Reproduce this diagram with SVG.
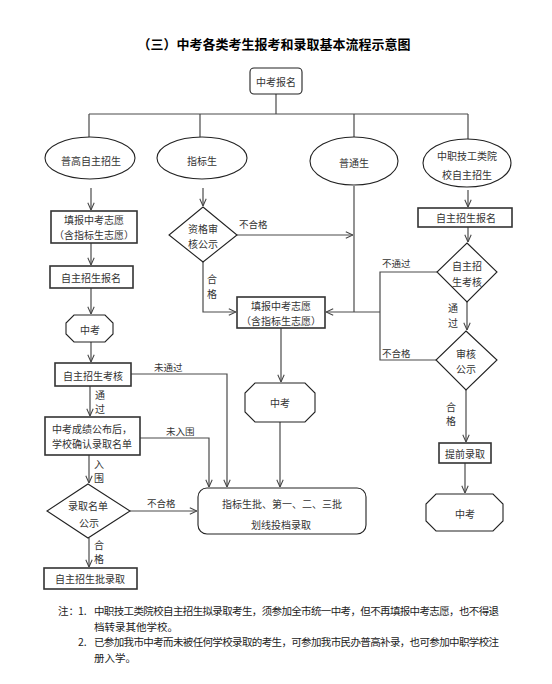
<svg xmlns="http://www.w3.org/2000/svg" width="552" height="684" viewBox="0 0 552 684">
<style>
.ln{stroke:#4a4a4a;stroke-width:1.2;fill:none}
.bx{fill:#fff;stroke:#333;stroke-width:1.6}
.sh{fill:#fff;stroke:#222;stroke-width:1.1}
.t{font-family:"Noto Sans CJK SC","Noto Sans",sans-serif;font-size:10px;fill:#333;text-anchor:middle;dominant-baseline:central}
.l{font-family:"Noto Sans CJK SC","Noto Sans",sans-serif;font-size:9.5px;fill:#333;dominant-baseline:central}
.n{font-family:"Noto Sans CJK SC","Noto Sans",sans-serif;font-size:10.5px;fill:#222}
.title{font-family:"Noto Sans CJK SC",sans-serif;font-size:13px;font-weight:bold;fill:#000;text-anchor:middle}
</style>
<defs>
<marker id="ar" viewBox="0 0 10 10" refX="10" refY="5" markerWidth="8" markerHeight="8" markerUnits="userSpaceOnUse" orient="auto">
<path d="M1,1 L10,5 L1,9" fill="none" stroke="#444" stroke-width="1.3"/>
</marker>
</defs>
<rect width="552" height="684" fill="#fff"/>
<text class="title" x="274" y="48.5">（三）中考各类考生报考和录取基本流程示意图</text>

<g id="connectors">
<path class="ln" d="M276,94 V114 M89,114 H468 M89,114 V137 M200,114 V137 M354,114 V137 M468,114 V139"/>
<path class="ln" d="M91,188 V210" marker-end="url(#ar)"/>
<path class="ln" d="M91,243 V265" marker-end="url(#ar)"/>
<path class="ln" d="M91,288 V314" marker-end="url(#ar)"/>
<path class="ln" d="M91,342 V362" marker-end="url(#ar)"/>
<path class="ln" d="M90,386 V416" marker-end="url(#ar)"/>
<path class="ln" d="M89,455 V483" marker-end="url(#ar)"/>
<path class="ln" d="M89,538 V567" marker-end="url(#ar)"/>
<path class="ln" d="M203,188 V206" marker-end="url(#ar)"/>
<path class="ln" d="M203,262 V312 H236" marker-end="url(#ar)"/>
<path class="ln" d="M237,235 H353" marker-end="url(#ar)"/>
<path class="ln" d="M354,186 V312"/>
<path class="ln" d="M437,272 H380 V360 H436"/>
<path class="ln" d="M380,312 H326" marker-end="url(#ar)"/>
<path class="ln" d="M468,190 V207" marker-end="url(#ar)"/>
<path class="ln" d="M468,227 V242" marker-end="url(#ar)"/>
<path class="ln" d="M467,302 V330" marker-end="url(#ar)"/>
<path class="ln" d="M466,390 V442" marker-end="url(#ar)"/>
<path class="ln" d="M465,463 V493" marker-end="url(#ar)"/>
<path class="ln" d="M281,328 V382" marker-end="url(#ar)"/>
<path class="ln" d="M280,422 V487" marker-end="url(#ar)"/>
<path class="ln" d="M131,374 H227 V487" marker-end="url(#ar)"/>
<path class="ln" d="M140,438 H209 V487" marker-end="url(#ar)"/>
<path class="ln" d="M130,511 H197" marker-end="url(#ar)"/>
<text class="l" x="239" y="224">不合格</text>
<text class="t" x="212" y="278">合</text>
<text class="t" x="212" y="293">格</text>
<text class="l" x="382" y="263">不通过</text>
<text class="l" x="382" y="353">不合格</text>
<text class="t" x="453" y="307">通</text>
<text class="t" x="453" y="322">过</text>
<text class="t" x="451" y="406">合</text>
<text class="t" x="451" y="420">格</text>
<text class="l" x="154" y="367">未通过</text>
<text class="l" x="166" y="431">未入围</text>
<text class="l" x="147" y="503">不合格</text>
<text class="t" x="100" y="394">通</text>
<text class="t" x="100" y="408">过</text>
<text class="t" x="99" y="463">入</text>
<text class="t" x="99" y="477">围</text>
<text class="t" x="99" y="544">合</text>
<text class="t" x="99" y="558">格</text>
</g>

<g id="n-baoming"><rect class="sh" x="250" y="68" width="52" height="26" rx="4"/><text class="t" x="276" y="81">中考报名</text></g>
<g id="n-pugao"><ellipse class="sh" cx="90" cy="158" rx="45" ry="21"/><text class="t" x="91" y="160">普高自主招生</text></g>
<g id="n-zhibiao"><ellipse class="sh" cx="202" cy="158" rx="45" ry="21"/><text class="t" x="202" y="160">指标生</text></g>
<g id="n-putong"><ellipse class="sh" cx="354" cy="161" rx="44" ry="24"/><text class="t" x="354" y="162">普通生</text></g>
<g id="n-zhongzhi"><ellipse class="sh" cx="467" cy="163" rx="44" ry="24"/><text class="t" x="467" y="155">中职技工类院</text><text class="t" x="467" y="174">校自主招生</text></g>

<g id="n-tianbao1"><rect class="bx" x="51" y="211" width="86" height="32"/><text class="t" x="94" y="219.5">填报中考志愿</text><text class="t" x="94" y="234.5">（含指标生志愿）</text></g>
<g id="n-baoming1"><rect class="bx" x="50" y="266" width="83" height="22"/><text class="t" x="91" y="277">自主招生报名</text></g>
<g id="n-zhongkao1"><polygon class="sh" points="74,315 105,315 113,323 113,334 105,342 74,342 66,334 66,323"/><text class="t" x="90" y="329">中考</text></g>
<g id="n-kaohe1"><rect class="bx" x="55" y="363" width="76" height="23"/><text class="t" x="93" y="375">自主招生考核</text></g>
<g id="n-chengji"><rect class="bx" x="45" y="417" width="95" height="38"/><text class="t" x="92" y="428">中考成绩公布后，</text><text class="t" x="92" y="443">学校确认录取名单</text></g>
<g id="n-gongshi1"><polygon class="sh" points="88,484 130,511 88,538 47,511"/><text class="t" x="88" y="505">录取名单</text><text class="t" x="89" y="522">公示</text></g>
<g id="n-luqu1"><rect class="bx" x="44" y="568" width="93" height="21"/><text class="t" x="90" y="578.5">自主招生批录取</text></g>

<g id="n-zige"><polygon class="sh" points="203,207 237,235 203,262 169,235"/><text class="t" x="203" y="228">资格审</text><text class="t" x="203" y="243">核公示</text></g>
<g id="n-tianbao2"><rect class="bx" x="237" y="297" width="88" height="31"/><text class="t" x="281" y="305">填报中考志愿</text><text class="t" x="281" y="320">（含指标生志愿）</text></g>
<g id="n-zhongkao2"><polygon class="sh" points="255,383 305,383 315,393 315,412 305,422 255,422 245,412 245,393"/><text class="t" x="280" y="402">中考</text></g>
<g id="n-pici"><rect class="sh" x="198" y="488" width="168" height="46" rx="9"/><text class="t" x="282" y="503">指标生批、第一、二、三批</text><text class="t" x="281" y="524">划线投档录取</text></g>

<g id="n-baoming3"><rect class="bx" x="418" y="208" width="94" height="19"/><text class="t" x="466" y="217.5">自主招生报名</text></g>
<g id="n-kaohe3"><polygon class="sh" points="467,243 497,272 467,302 437,272"/><text class="t" x="467" y="265">自主招</text><text class="t" x="467" y="281">生考核</text></g>
<g id="n-gongshi3"><polygon class="sh" points="466,331 497,360 466,390 436,360"/><text class="t" x="466" y="353">审核</text><text class="t" x="466" y="368">公示</text></g>
<g id="n-tiqian"><rect class="bx" x="439" y="443" width="52" height="20"/><text class="t" x="465" y="453">提前录取</text></g>
<g id="n-zhongkao3"><polygon class="sh" points="436,494 493,494 503,504 503,521 493,531 436,531 426,521 426,504"/><text class="t" x="465" y="513">中考</text></g>

<g id="notes">
<text class="n" x="58" y="615">注：</text>
<text class="n" x="78" y="615">1.</text>
<text class="n" x="94" y="615" textLength="405" lengthAdjust="spacing">中职技工类院校自主招生拟录取考生，须参加全市统一中考，但不再填报中考志愿，也不得退</text>
<text class="n" x="94" y="631">档转录其他学校。</text>
<text class="n" x="78" y="646">2.</text>
<text class="n" x="94" y="646" textLength="405" lengthAdjust="spacing">已参加我市中考而未被任何学校录取的考生，可参加我市民办普高补录，也可参加中职学校注</text>
<text class="n" x="94" y="662">册入学。</text>
</g>
</svg>
